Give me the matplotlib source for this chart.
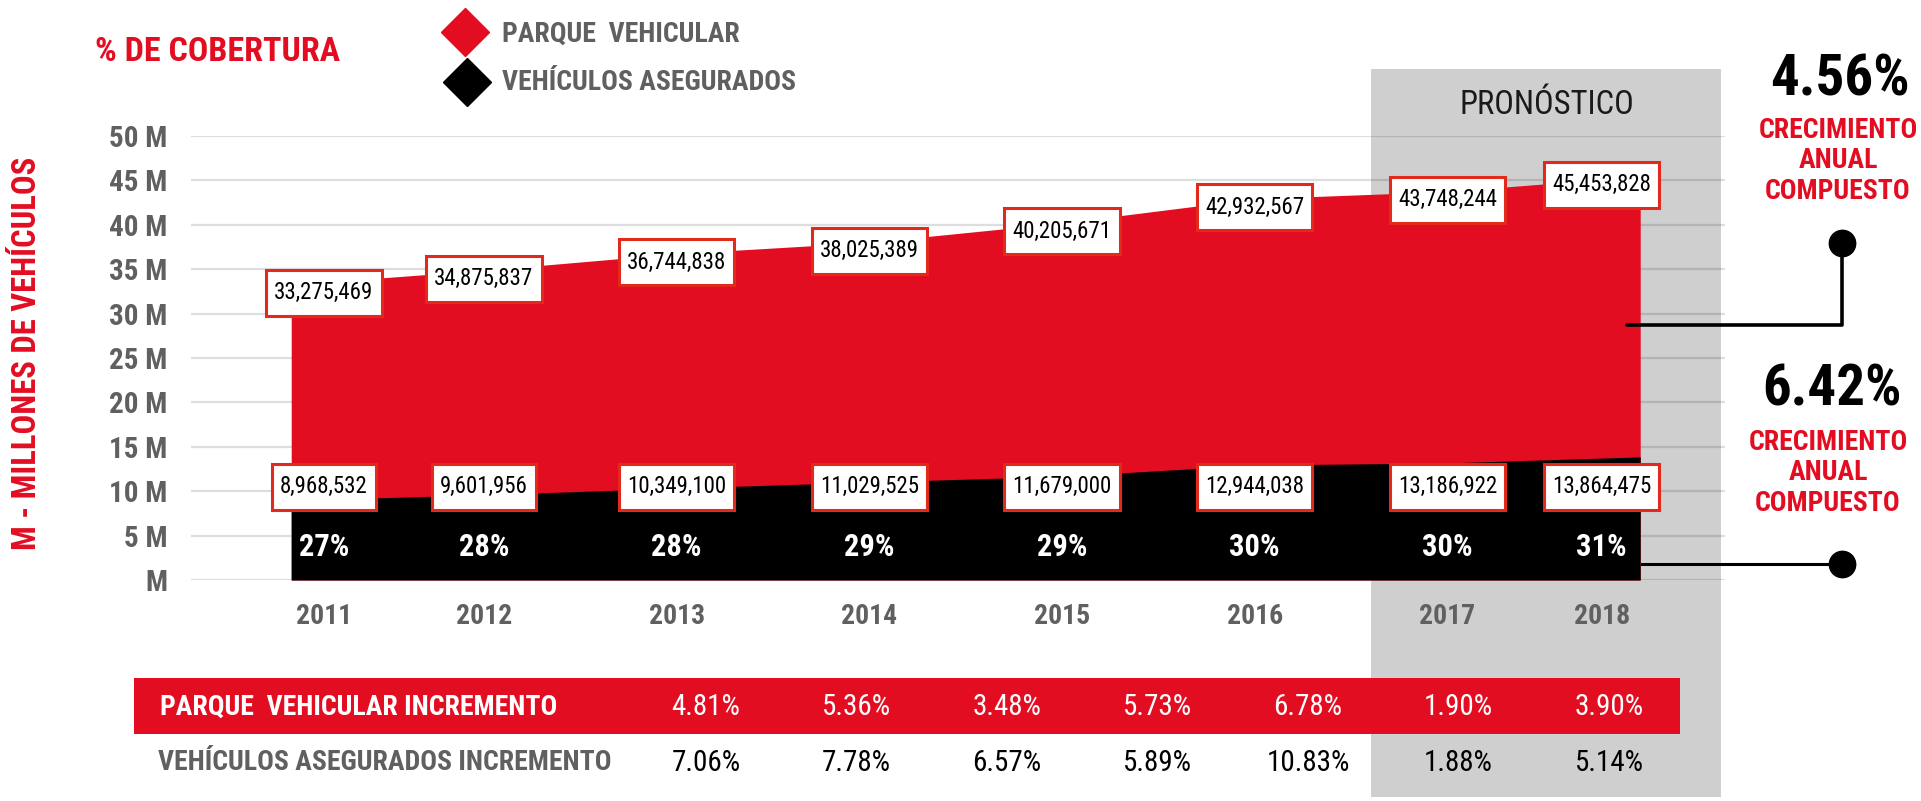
import numpy as np
import matplotlib
matplotlib.use("Agg")
import matplotlib.pyplot as plt
from matplotlib import font_manager as fm
from matplotlib.patches import Rectangle
from matplotlib.lines import Line2D
from matplotlib.path import Path

years = ["2011", "2012", "2013", "2014", "2015", "2016", "2017", "2018"]
parque = [33275469, 34875837, 36744838, 38025389, 40205671, 42932567, 43748244, 45453828]
asegurados = [8968532, 9601956, 10349100, 11029525, 11679000, 12944038, 13186922, 13864475]
cobertura = ["27%", "28%", "28%", "29%", "29%", "30%", "30%", "31%"]
parque_inc = ["4.81%", "5.36%", "3.48%", "5.73%", "6.78%", "1.90%", "3.90%"]
asegurados_inc = ["7.06%", "7.78%", "6.57%", "5.89%", "10.83%", "1.88%", "5.14%"]
cagr_parque = "4.56%"
cagr_asegurados = "6.42%"


def pick_font(names):
    for n in names:
        try:
            fm.findfont(fm.FontProperties(family=n), fallback_to_default=False)
            return n
        except ValueError:
            continue
    return "DejaVu Sans"


FONT = pick_font(["Roboto Condensed", "Liberation Sans Narrow", "DejaVu Sans Condensed", "Liberation Sans"])
plt.rcParams["font.family"] = [FONT, "DejaVu Sans"]

RED = "#e30d22"
BOX_RED = "#e3291c"
GRAY_TXT = "#606060"
FORECAST = "#cfcfcf"

W, H = 1921, 801


def fx(x):
    return x / W


def fy(y):
    return 1 - y / H


def label_box(x0, y0, width, height, mutation_size):
    # square box, less padding left/right than top/bottom
    px, py = 0.35 * mutation_size, 0.5 * mutation_size
    return Path([(x0 - px, y0 - py), (x0 + width + px, y0 - py), (x0 + width + px, y0 + height + py),
                 (x0 - px, y0 + height + py), (x0 - px, y0 - py)], closed=True)


fig = plt.figure(figsize=(W / 100, H / 100), dpi=100)

# forecast panel behind everything
fig.add_artist(Rectangle((fx(1371), fy(797)), fx(1721) - fx(1371), fy(69) - fy(797),
                         transform=fig.transFigure, color=FORECAST, lw=0, zorder=-2))

ax = fig.add_axes([fx(191), fy(580), fx(1725) - fx(191), fy(136) - fy(580)])
ax.set_facecolor("none")
for s in ax.spines.values():
    s.set_visible(False)

x = np.arange(len(years))
ax.fill_between(x, 0, parque, color=RED, lw=0, zorder=2)
ax.fill_between(x, 0, asegurados, color="black", lw=0, zorder=3)

ax.set_xlim(-0.52, 7.44)
ax.set_ylim(0, 50e6)
yt = np.arange(0, 50e6 + 1, 5e6)
ax.set_yticks(yt)
ax.set_yticklabels(["M" if v == 0 else f"{int(v / 1e6)} M" for v in yt],
                   fontsize=21, fontweight="bold", color=GRAY_TXT)
ax.tick_params(axis="y", length=0, pad=17)
ax.set_xticks([])
ax.yaxis.grid(True, color="black", alpha=0.13, lw=1.6)
ax.set_axisbelow(True)

# labels sit a little inside the area at both ends
inset = np.zeros(len(years))
inset[0], inset[-1] = 0.17, -0.2

box = dict(boxstyle=label_box, fc="white", ec=BOX_RED, lw=2.2)
for i in range(len(years)):
    lx = x[i] + inset[i]
    ax.annotate(f"{parque[i]:,}", (lx, parque[i]), xytext=(0, -6), textcoords="offset points",
                ha="center", va="center", fontsize=16.5, color="black", bbox=box, zorder=5)
    ax.text(lx, 10.5e6, f"{asegurados[i]:,}", ha="center", va="center", fontsize=16.5,
            color="black", bbox=box, zorder=5)
    ax.text(lx, 3.7e6, cobertura[i], ha="center", va="center", fontsize=22,
            fontweight="bold", color="white", zorder=5)
    ax.text(lx, -0.083, years[i], transform=ax.get_xaxis_transform(), ha="center", va="center",
            fontsize=20, fontweight="bold", color=GRAY_TXT)

# header
fig.text(fx(95), fy(52), "% DE COBERTURA", fontsize=24.5, fontweight="bold", color=RED, va="center")
fig.text(fx(27), fy(353), "M - MILLONES DE VEHÍCULOS", fontsize=23.5, fontweight="bold", color=RED,
         rotation=90, ha="center", va="center")
fig.add_artist(Line2D([fx(465)], [fy(32)], marker="D", ms=24, color=RED, ls="none",
                      transform=fig.transFigure))
fig.add_artist(Line2D([fx(467)], [fy(82)], marker="D", ms=24, color="black", ls="none",
                      transform=fig.transFigure))
fig.text(fx(502), fy(34), "PARQUE  VEHICULAR", fontsize=20, fontweight="bold", color=GRAY_TXT, va="center")
fig.text(fx(502), fy(83), "VEHÍCULOS ASEGURADOS", fontsize=20, fontweight="bold", color=GRAY_TXT, va="center")
fig.text(fx(1547), fy(105), "PRONÓSTICO", fontsize=23.5, color="#1a1a1a", ha="center", va="center")

# compound growth call-outs
fig.text(fx(1840), fy(80), cagr_parque, fontsize=41, fontweight="bold", color="black", ha="center", va="center")
fig.text(fx(1838), fy(161), "CRECIMIENTO\nANUAL\nCOMPUESTO", fontsize=20, fontweight="bold", color=RED,
         ha="center", va="center", linespacing=1.15)
fig.text(fx(1832), fy(390), cagr_asegurados, fontsize=41, fontweight="bold", color="black", ha="center", va="center")
fig.text(fx(1828), fy(473), "CRECIMIENTO\nANUAL\nCOMPUESTO", fontsize=20, fontweight="bold", color=RED,
         ha="center", va="center", linespacing=1.15)
fig.add_artist(Line2D([fx(1627), fx(1842), fx(1842)], [fy(325), fy(325), fy(243)], color="black", lw=2.6,
                      transform=fig.transFigure, solid_capstyle="round", zorder=4))
fig.add_artist(Line2D([fx(1642), fx(1842)], [fy(564), fy(564)], color="black", lw=2.2,
                      transform=fig.transFigure, zorder=4))
for yy in (243, 564):
    fig.add_artist(Line2D([fx(1842)], [fy(yy)], marker="o", ms=19, color="black", ls="none",
                          transform=fig.transFigure, zorder=4))

# increment table
fig.add_artist(Rectangle((fx(134), fy(734)), fx(1680) - fx(134), fy(678) - fy(734),
                         transform=fig.transFigure, color=RED, lw=0, zorder=-1))
fig.text(fx(160), fy(707), "PARQUE  VEHICULAR INCREMENTO", fontsize=20, fontweight="bold",
         color="white", va="center")
fig.text(fx(158), fy(762), "VEHÍCULOS ASEGURADOS INCREMENTO", fontsize=20, fontweight="bold",
         color=GRAY_TXT, va="center")
cols = np.linspace(706, 1609, len(parque_inc))
for cx, a, b in zip(cols, parque_inc, asegurados_inc):
    fig.text(fx(cx), fy(707), a, fontsize=21, color="white", ha="center", va="center")
    fig.text(fx(cx), fy(763), b, fontsize=21, color="black", ha="center", va="center")

fig.savefig("out.png", dpi=100, facecolor="white")
